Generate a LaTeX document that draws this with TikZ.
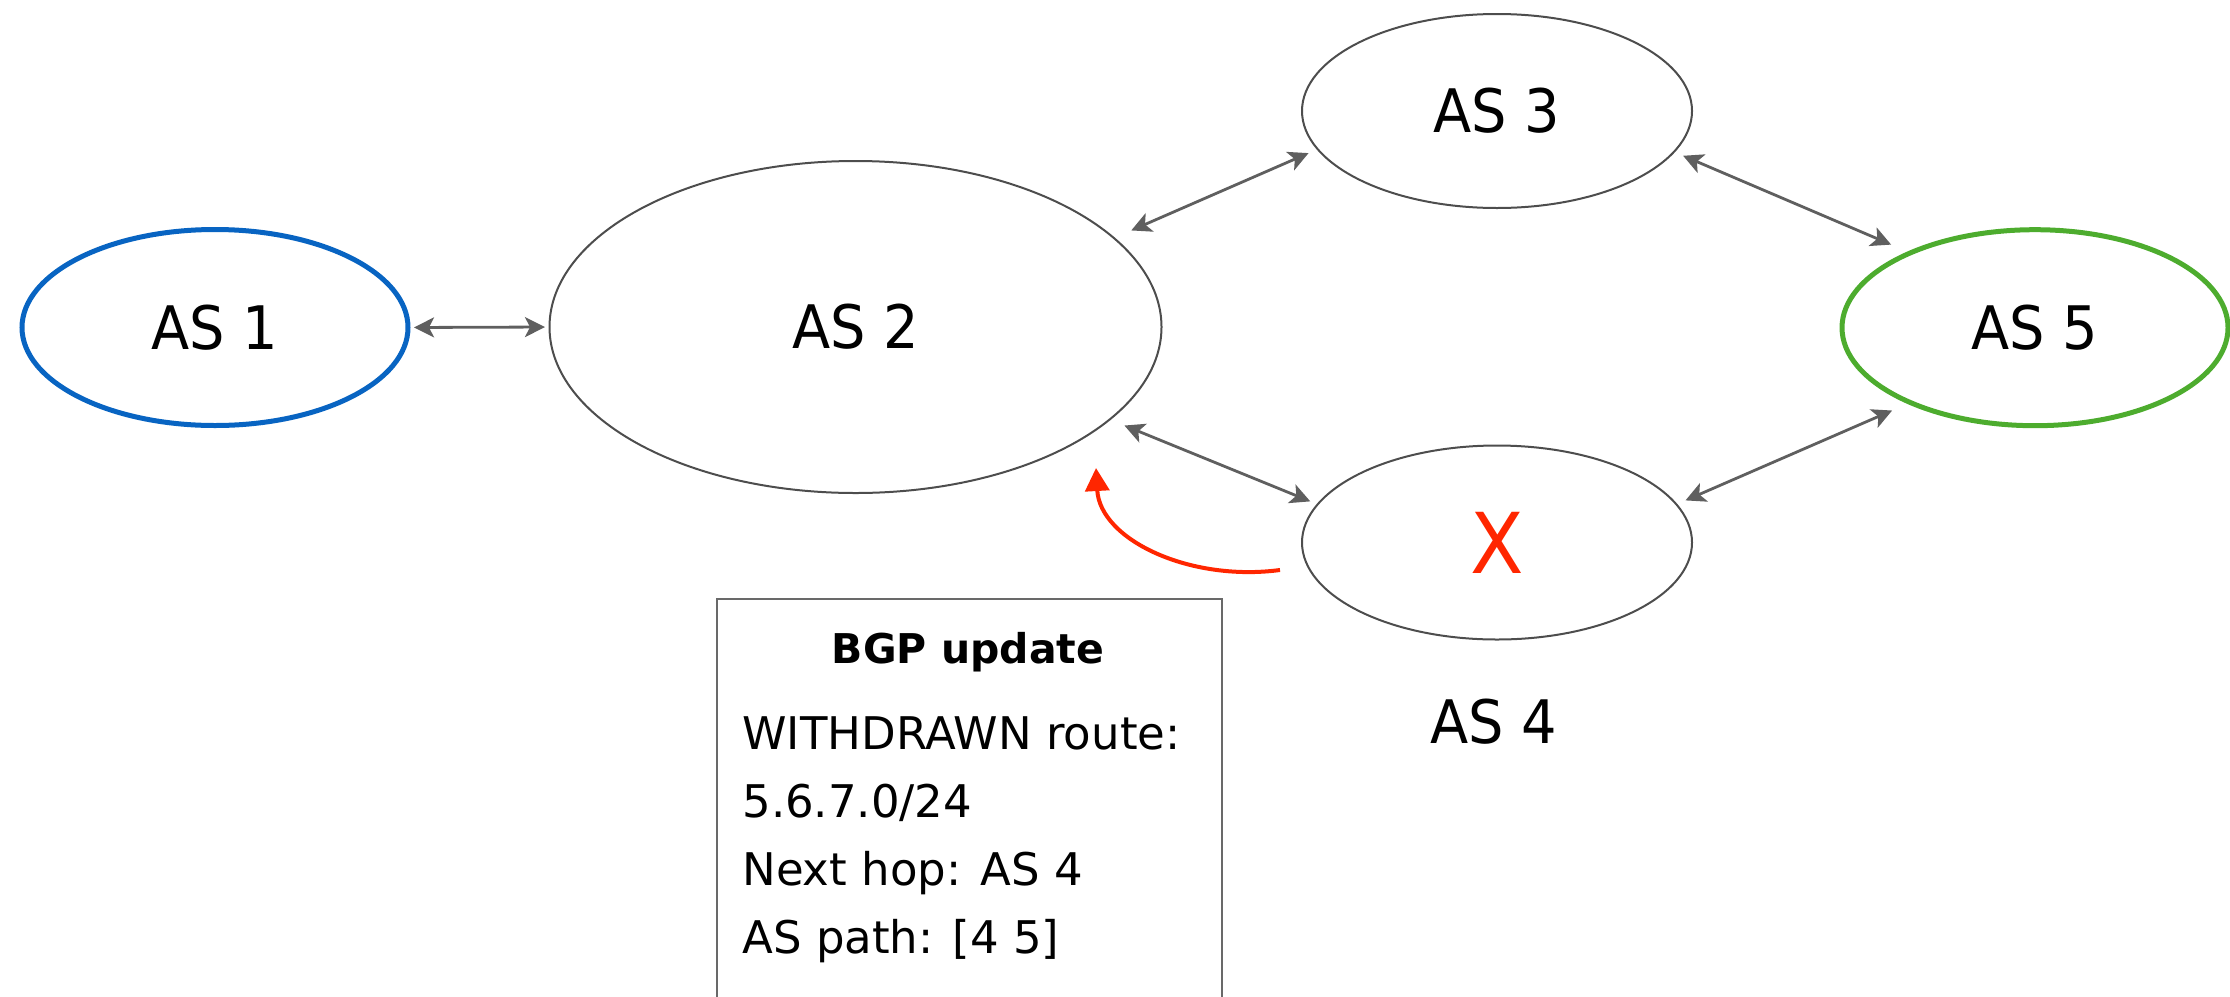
\documentclass[tikz,border=0pt]{standalone}
\usepackage{fontspec}
\setmainfont{DejaVu Sans}
\newfontfamily\asfont[FakeStretch=0.93]{DejaVu Sans}
\usetikzlibrary{arrows.meta,shapes.geometric}

\definecolor{asblue}{RGB}{8,100,194}
\definecolor{asgreen}{RGB}{77,172,46}
\definecolor{asgray}{RGB}{77,77,77}
\definecolor{linkgray}{RGB}{95,95,95}
\definecolor{boxgray}{RGB}{105,105,105}
\definecolor{alertred}{RGB}{255,38,0}

\tikzset{
  asnode/.style={ellipse, draw=asgray, line width=1pt, inner sep=0pt, outer sep=0pt,
    font=\asfont\fontsize{30pt}{36pt}\selectfont},
  bignode/.style={asnode, minimum width=306pt, minimum height=166pt},
  midnode/.style={asnode, minimum width=195pt, minimum height=97pt},
  endnode/.style={asnode, line width=2.5pt, minimum width=193pt, minimum height=98pt},
  link/.style={draw=linkgray, line width=1.4pt,
    {Stealth[length=10pt,width=10pt,inset=2.5pt]}-{Stealth[length=10pt,width=10pt,inset=2.5pt]}},
  withdraw/.style={draw=alertred, line width=2pt, -{Triangle[length=11.5pt,width=12pt]}},
  msgbox/.style={rectangle, draw=boxgray, line width=1.4pt, anchor=north west,
    minimum width=252.5pt, minimum height=260pt, inner sep=0pt},
  msgtitle/.style={anchor=base, font=\bfseries\fontsize{20.5pt}{24pt}\selectfont},
  msgline/.style={anchor=base west, font=\fontsize{22.5pt}{27pt}\selectfont, inner sep=0pt},
}

\begin{document}
\begin{tikzpicture}[x=0.5pt, y=-0.5pt]
  \useasboundingbox (0,0) rectangle (2230,996);
  \clip (0,0) rectangle (2230,996);

  % autonomous systems
  \node[endnode, draw=asblue] (as1) at (215,327.5) {AS 1};
  \node[bignode] (as2) at (855.5,327) {AS 2};
  \node[midnode] (as3) at (1497,111) {AS 3};
  \node[midnode, text=alertred, font=\asfont\fontsize{42pt}{48pt}\selectfont] (as4) at (1497,542.5) {X};
  \node[endnode, draw=asgreen] (as5) at (2035,327.7) {AS 5};
  \node[font=\asfont\fontsize{30pt}{36pt}\selectfont] (as4-label) at (1494,721.5) {AS 4};

  % peering links
  \draw[link, shorten <=3pt, shorten >=2.25pt] (as1.east) -- (as2.west);
  \draw[link, shorten <=9.5pt, shorten >=5pt] (as2.19) -- (as3.192);
  \draw[link, shorten <=5pt, shorten >=10.5pt] (as3.-13) -- (as5.149);
  \draw[link, shorten <=8pt, shorten >=4pt] (as2.-20) -- (as4.168);
  \draw[link, shorten <=5pt, shorten >=10pt] (as4.12) -- (as5.211);

  % withdrawal sent from AS 4 towards AS 2
  \coordinate (wd-from) at (1280,570);
  \coordinate (wd-to) at (1096,468);
  \draw[withdraw] (wd-from) .. controls (1190,582) and (1100,540) .. (wd-to);

  % update message
  \node[msgbox] (update) at (715.5,597.5) {};
  \node[msgtitle] (update-title) at (968,663) {BGP update};
  \node[msgline] (update-l1) at (742,749) {WITHDRAWN route:};
  \node[msgline] (update-l2) at (742,817) {5.6.7.0/24};
  \node[msgline] (update-l3) at (742,885) {Next hop: AS 4};
  \node[msgline] (update-l4) at (742,953) {AS path: [4 5]};
\end{tikzpicture}
\end{document}
